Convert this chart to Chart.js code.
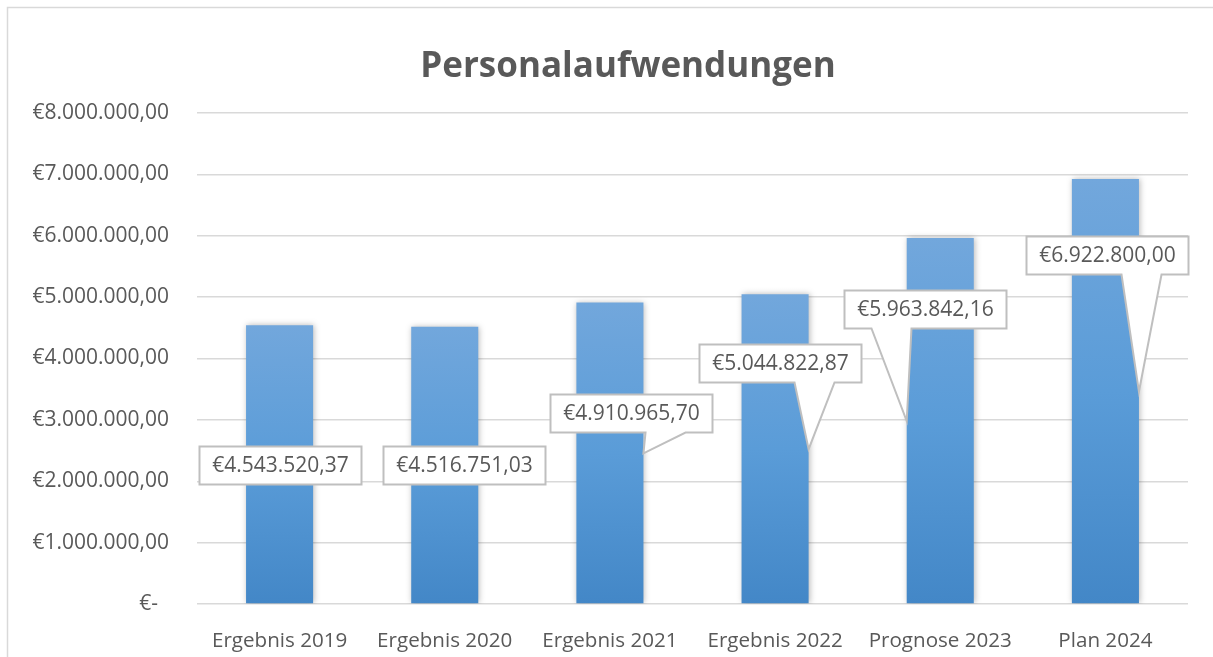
<!DOCTYPE html>
<html>
<head>
<meta charset="utf-8">
<script src="https://cdn.jsdelivr.net/npm/chart.js@4.4.1/dist/chart.umd.min.js"></script>
<style>
  html, body { margin: 0; padding: 0; background: #fff; overflow: hidden; }
  #wrap { position: relative; width: 1213px; height: 657px; }
</style>
</head>
<body>
<div id="wrap"><canvas id="chart"></canvas></div>
<script>
var categories = ['Ergebnis 2019', 'Ergebnis 2020', 'Ergebnis 2021', 'Ergebnis 2022', 'Prognose 2023', 'Plan 2024'];
var values = [4543520.37, 4516751.03, 4910965.70, 5044822.87, 5963842.16, 6922800.00];
var yTickValues = [0, 1000000, 2000000, 3000000, 4000000, 5000000, 6000000, 7000000, 8000000];
var chartTitle = 'Personalaufwendungen';

var TEXT = '#595959';
var GRID = '#d9d9d9';
var FONT = '"Open Sans", "Noto Sans", sans-serif';

// label box offset from (bar centre, half bar height), in px
var calloutShift = [[0, 0], [19, 0], [21, -40], [5, -86], [-15, -112], [2, -137]];

function euro(v) {
  if (v === 0) { return '€-  '; }
  var p = v.toFixed(2).split('.');
  return '€' + p[0].replace(/\B(?=(\d{3})+(?!\d))/g, '.') + ',' + p[1];
}

var framePlugin = {
  id: 'frame',
  beforeDraw: function (chart) {
    var ctx = chart.ctx;
    ctx.save();
    ctx.fillStyle = '#fff';
    ctx.fillRect(0, 0, chart.width, chart.height);
    ctx.strokeStyle = GRID;
    ctx.lineWidth = 1.5;
    ctx.beginPath();
    ctx.moveTo(7.5, chart.height);
    ctx.lineTo(7.5, 7.5);
    ctx.lineTo(chart.width, 7.5);
    ctx.stroke();
    ctx.fillStyle = TEXT;
    ctx.font = 'bold 35px ' + FONT;
    ctx.textAlign = 'center';
    ctx.textBaseline = 'alphabetic';
    ctx.fillText(chartTitle, 628, 77);
    ctx.restore();
  }
};

// soft shadow round the bars
var shadowPlugin = {
  id: 'barShadow',
  beforeDatasetsDraw: function (chart) {
    var ctx = chart.ctx;
    ctx.save();
    ctx.shadowColor = 'rgba(0,0,0,0.28)';
    ctx.shadowBlur = 6;
    ctx.shadowOffsetX = 1;
    ctx.shadowOffsetY = 0;
  },
  afterDatasetsDraw: function (chart) {
    chart.ctx.restore();
  }
};

// Excel-like callout boxes with a wedge pointing at the bar edge.
var calloutPlugin = {
  id: 'callouts',
  afterDatasetsDraw: function (chart) {
    var ctx = chart.ctx;
    var meta = chart.getDatasetMeta(0);
    var ys = chart.scales.y;
    ctx.save();
    ctx.font = '21px ' + FONT;
    meta.data.forEach(function (bar, i) {
      var txt = euro(values[i]);
      var tw = ctx.measureText(txt).width;
      var w = Math.round(tw + 25), h = 38;
      var midY = ys.getPixelForValue(values[i] / 2);
      var cx = bar.x + calloutShift[i][0];
      var cy = midY + calloutShift[i][1];
      var L = Math.round(cx - w / 2) + 0.5, T = Math.round(cy - h / 2) + 0.5;
      var R = L + w, B = T + h;
      var side = cx >= bar.x ? 1 : -1;
      var ax = bar.x + side * bar.width / 2;
      var ay = midY;
      ctx.beginPath();
      ctx.moveTo(L, T);
      ctx.lineTo(R, T);
      ctx.lineTo(R, B);
      if (ay > B + 2) {
        var bc = L + w * (side > 0 ? 0.71 : 0.29);
        ctx.lineTo(bc + 20, B);
        ctx.lineTo(ax, ay);
        ctx.lineTo(bc - 20, B);
      }
      ctx.lineTo(L, B);
      ctx.closePath();
      ctx.fillStyle = '#fff';
      ctx.fill();
      ctx.strokeStyle = '#bfbfbf';
      ctx.lineWidth = 2;
      ctx.lineJoin = 'miter';
      ctx.stroke();
      ctx.fillStyle = TEXT;
      ctx.textAlign = 'center';
      ctx.textBaseline = 'middle';
      ctx.fillText(txt, (L + R) / 2, (T + B) / 2 + 1);
    });
    ctx.restore();
  }
};

function barFill(c) {
  var chart = c.chart;
  if (!chart.chartArea) { return '#5b9bd5'; }
  var ys = chart.scales.y;
  var top = ys.getPixelForValue(c.raw);
  var bot = ys.getPixelForValue(0);
  var g = chart.ctx.createLinearGradient(0, top, 0, bot);
  g.addColorStop(0, 'rgb(114,167,220)');
  g.addColorStop(0.5, 'rgb(90,156,216)');
  g.addColorStop(1, 'rgb(67,135,199)');
  return g;
}

new Chart(document.getElementById('chart'), {
  type: 'bar',
  data: {
    labels: categories,
    datasets: [{
      label: chartTitle,
      data: values,
      backgroundColor: barFill,
      borderWidth: 0,
      categoryPercentage: 1,
      barPercentage: 0.406
    }]
  },
  options: {
    responsive: true,
    maintainAspectRatio: false,
    animation: false,
    layout: { padding: { top: 113, right: 25, bottom: 0, left: 0 } },
    plugins: {
      legend: { display: false },
      title: { display: false },
      tooltip: { enabled: false }
    },
    scales: {
      x: {
        grid: { display: false },
        border: { display: false },
        ticks: { color: TEXT, font: { family: FONT, size: 20.6 }, padding: 17, maxRotation: 0 },
        afterFit: function (s) { s.height = 53; }
      },
      y: {
        min: 0,
        max: 8000000,
        afterBuildTicks: function (s) {
          s.ticks = yTickValues.map(function (v) { return { value: v }; });
        },
        grid: { color: GRID, lineWidth: 1.5, drawTicks: false },
        border: { display: false },
        ticks: {
          color: TEXT,
          font: { family: FONT, size: 21 },
          padding: 28,
          callback: function (v) { return euro(v); }
        },
        afterFit: function (s) { s.width = 197; }
      }
    }
  },
  plugins: [framePlugin, shadowPlugin, calloutPlugin]
});
</script>
</body>
</html>
